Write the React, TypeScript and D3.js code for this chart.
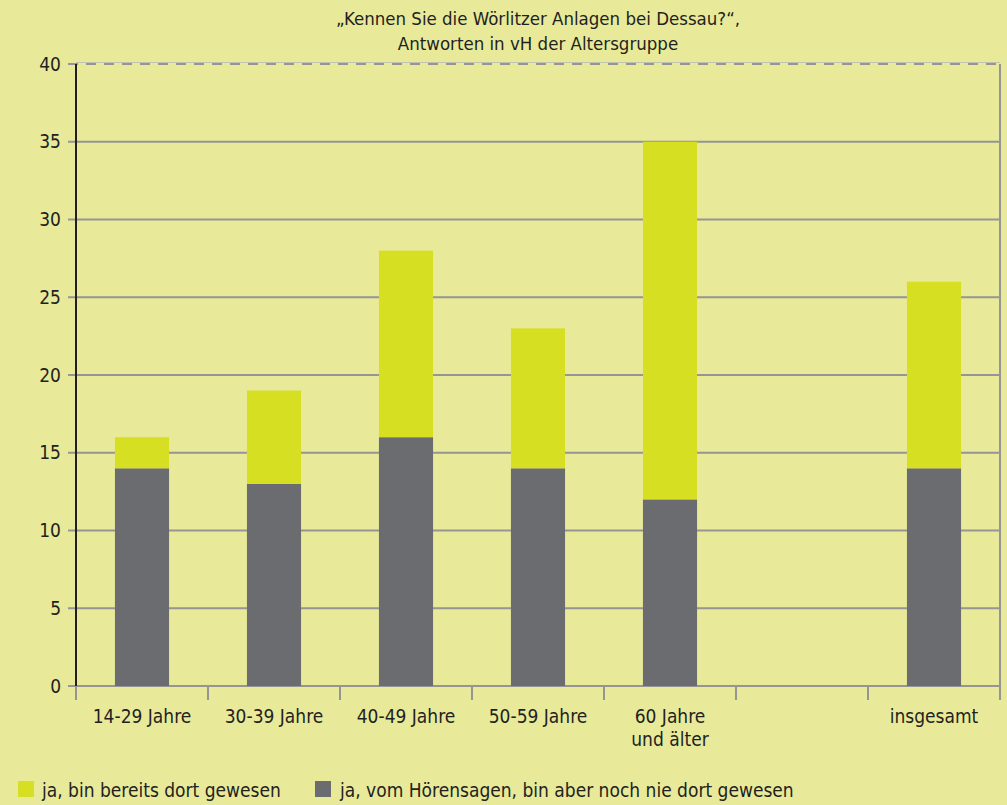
import React from "react";
import * as d3 from "d3";

const categories = ["14-29 Jahre", "30-39 Jahre", "40-49 Jahre", "50-59 Jahre", "60 Jahre\nund älter", "", "insgesamt"];
const heardOnly = [14, 13, 16, 14, 12, null, 14];
const beenThere = [2, 6, 12, 9, 23, null, 12];
const yTicks = [0, 5, 10, 15, 20, 25, 30, 35, 40];
const titleLines = ["„Kennen Sie die Wörlitzer Anlagen bei Dessau?“,", "Antworten in vH der Altersgruppe"];
const legendLabels = ["ja, bin bereits dort gewesen", "ja, vom Hörensagen, bin aber noch nie dort gewesen"];

const W = 1007, H = 805;
const left = 76, right = 1000, top = 64, bottom = 686;
const BG = "#e8ea9a";
const YELLOW = "#d7df23";
const GRAY = "#6b6c70";
const GRID = "#959595";
const TEXT = "#231f20";
const FONT = "'Liberation Sans Narrow', 'DejaVu Sans Condensed', 'Roboto Condensed', sans-serif";

export default function App() {
  const x = d3.scaleBand<number>().domain(d3.range(categories.length)).range([left, right]).paddingInner(0.59).paddingOuter(0.295);
  const band = d3.scaleBand<number>().domain(d3.range(categories.length)).range([left, right]);
  const y = d3.scaleLinear().domain([0, 40]).range([bottom, top]);

  return (
    <svg width={W} height={H} style={{ position: "absolute", left: 0, top: 0, background: BG, fontFamily: FONT }}>
      <rect width={W} height={H} fill={BG} />
      {titleLines.map((t, i) => (
        <text key={i} x={538} y={25 + i * 25} textAnchor="middle" fontSize={18.5} fill={TEXT}>{t}</text>
      ))}
      {/* gridlines */}
      {yTicks.map((v) => (
        <g key={v}>
          <line x1={68} x2={right} y1={y(v)} y2={y(v)} stroke={GRID} strokeWidth={2}
            strokeDasharray={v === 40 ? "10,8" : undefined} />
          {v === 40 && <line x1={left} x2={right} y1={y(v) - 1.5} y2={y(v) - 1.5} stroke="#b8b8b8" strokeWidth={0.8} />}
          <text x={61} y={y(v)} dy="0.35em" textAnchor="end" fontSize={19} fill={TEXT}>{v}</text>
        </g>
      ))}
      {/* right border */}
      <line x1={right} x2={right} y1={top} y2={bottom} stroke={GRID} strokeWidth={2} />
      {/* bars */}
      {categories.map((c, i) => {
        const h = heardOnly[i];
        const b = beenThere[i];
        if (h == null || b == null) return null;
        return (
          <g key={i}>
            <rect x={x(i)} width={x.bandwidth()} y={y(h)} height={y(0) - y(h)} fill={GRAY} />
            <rect x={x(i)} width={x.bandwidth()} y={y(h + b)} height={y(h) - y(h + b)} fill={YELLOW} />
          </g>
        );
      })}
      {/* x axis ticks */}
      {d3.range(categories.length + 1).map((i) => {
        const xx = i < categories.length ? band(i)! : right;
        return <line key={i} x1={xx} x2={xx} y1={bottom} y2={bottom + 14} stroke={GRID} strokeWidth={2} />;
      })}
      {/* y axis */}
      <line x1={left} x2={left} y1={top} y2={bottom} stroke={TEXT} strokeWidth={2} />
      {/* x labels */}
      {categories.map((c, i) => (
        <text key={i} x={band(i)! + band.bandwidth() / 2} y={723} textAnchor="middle" fontSize={19} fill={TEXT}>
          {c.split("\n").map((l, j) => (
            <tspan key={j} x={band(i)! + band.bandwidth() / 2} dy={j === 0 ? 0 : 23}>{l}</tspan>
          ))}
        </text>
      ))}
      {/* legend */}
      <rect x={18} y={781} width={16} height={16} fill={YELLOW} />
      <text x={42} y={797} fontSize={19} fill={TEXT}>{legendLabels[0]}</text>
      <rect x={315} y={781} width={16} height={16} fill={GRAY} />
      <text x={340} y={797} fontSize={19} fill={TEXT}>{legendLabels[1]}</text>
    </svg>
  );
}
